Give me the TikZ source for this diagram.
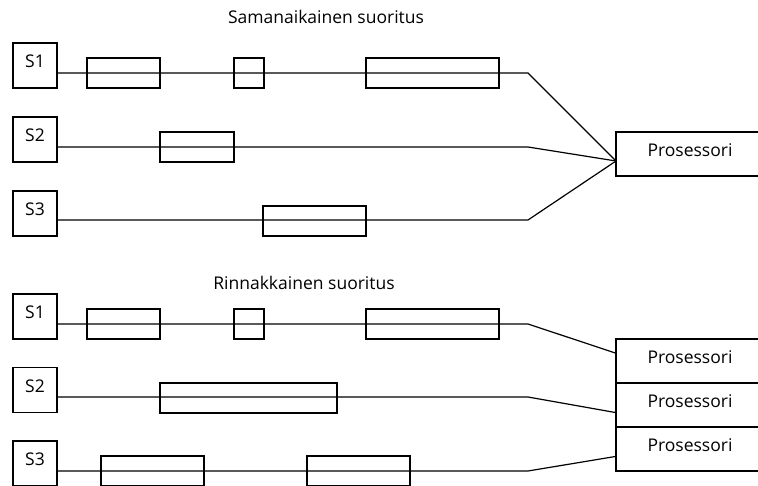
\documentclass[tikz,border=0pt]{standalone}
\usepackage{fontspec}
\setmainfont{Open Sans}
\begin{document}
\begin{tikzpicture}[x=1pt,y=-1pt,
  line width=1.4pt,
  every node/.style={font=\fontsize{17.5}{21}\selectfont},
  src/.style={draw,minimum width=44pt,minimum height=45pt,inner sep=0pt,label={[yshift=4pt]center:#1}},
  bar/.style={draw,minimum height=30pt,inner sep=0pt},
  proc/.style={draw,minimum width=148pt,inner sep=0pt,label={[yshift=4pt]center:#1}},
  wire/.style={line width=1.2pt},
  ttl/.style={inner sep=0pt}]
\useasboundingbox (0,0) rectangle (758,486);
\clip (0,0) rectangle (758,486);
% ---------- top ----------
\node[ttl] (t1) at (326,17) {Samanaikainen suoritus};
\node[src=S1] (a1) at (35,65.5) {};
\node[src=S2] (a2) at (35,139.5) {};
\node[src=S3] (a3) at (35,213.5) {};
\node[proc=Prosessori,minimum height=44pt] (p0) at (690,154) {};
\coordinate (pin) at (616,161);
\coordinate (k1) at (528,73);
\coordinate (k2) at (528,147);
\coordinate (k3) at (528,220);
\draw[wire] (a1.east|-k1) -- (k1) -- (pin);
\draw[wire] (a2.east|-k2) -- (k2) -- (pin);
\draw[wire] (a3.east|-k3) -- (k3) -- (pin);
\node[bar,minimum width=73pt] (b11) at (123.5,73) {};
\node[bar,minimum width=30pt] (b12) at (249,73) {};
\node[bar,minimum width=133pt] (b13) at (432.5,73) {};
\node[bar,minimum width=74pt] (b21) at (197,147) {};
\node[bar,minimum width=103pt] (b31) at (314.5,221) {};
% ---------- bottom ----------
\node[ttl] (t2) at (304,283) {Rinnakkainen suoritus};
\node[src=S1] (c1) at (35,316.5) {};
\node[src=S2] (c2) at (35,390) {};
\node[src=S3] (c3) at (35,463.5) {};
\node[proc=Prosessori,minimum height=44pt] (q1) at (690,361) {};
\node[proc=Prosessori,minimum height=44.5pt] (q2) at (690,405) {};
\node[proc=Prosessori,minimum height=44pt] (q3) at (690,449) {};
\coordinate (m1) at (528,324);
\coordinate (m2) at (528,397);
\coordinate (m3) at (528,471);
\draw[wire] (c1.east|-m1) -- (m1) -- (q1.west|-0,353);
\draw[wire] (c2.east|-m2) -- (m2) -- (q2.west|-0,412.5);
\draw[wire] (c3.east|-m3) -- (m3) -- (q3.west|-0,456.5);
\node[bar,minimum width=73pt] (d11) at (123.5,324) {};
\node[bar,minimum width=30pt] (d12) at (249,324) {};
\node[bar,minimum width=133pt] (d13) at (432.5,324) {};
\node[bar,minimum width=177pt] (d21) at (248.5,398) {};
\node[bar,minimum width=103pt] (d31) at (152.5,471) {};
\node[bar,minimum width=103pt] (d32) at (358.5,471) {};
\end{tikzpicture}
\end{document}
